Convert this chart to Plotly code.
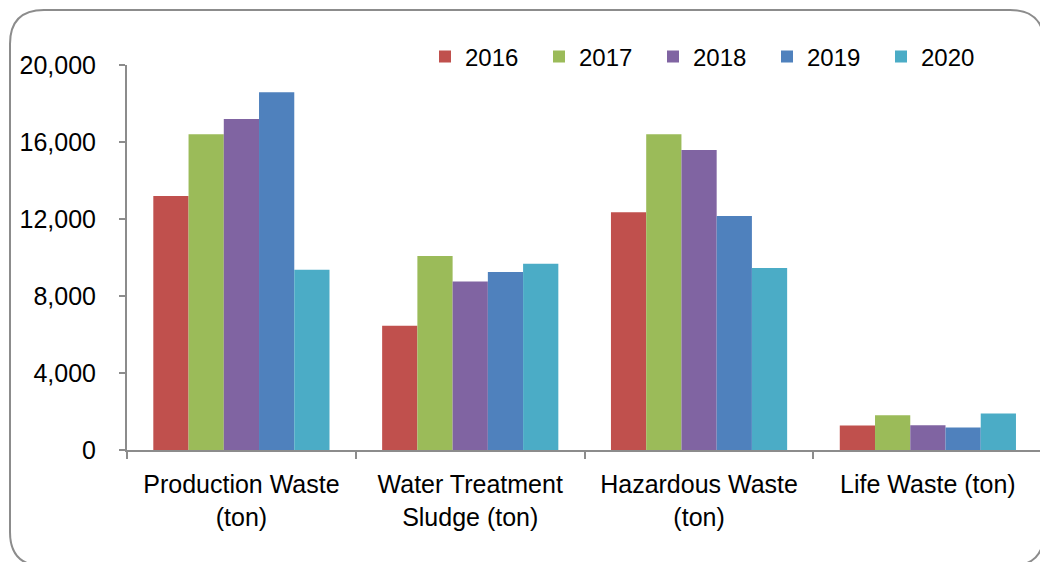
import plotly.graph_objects as go

categories = ["Production Waste<br>(ton)", "Water Treatment<br>Sludge (ton)", "Hazardous Waste<br>(ton)", "Life Waste (ton)"]
years = ["2016", "2017", "2018", "2019", "2020"]
values = {
    "2016": [13200, 6450, 12350, 1270],
    "2017": [16400, 10080, 16400, 1800],
    "2018": [17200, 8750, 15580, 1280],
    "2019": [18580, 9250, 12150, 1170],
    "2020": [9360, 9680, 9450, 1900],
}
colors = ["#C0504D", "#9BBB59", "#8064A2", "#4F81BD", "#4BACC6"]
y_ticks = [0, 4000, 8000, 12000, 16000, 20000]
y_tick_text = ["0", "4,000", "8,000", "12,000", "16,000", "20,000"]

W, H = 1040, 562
L, R, T, B = 127, 0, 65, 112

fig = go.Figure()
for y, c in zip(years, colors):
    fig.add_trace(go.Bar(name=y, x=categories, y=values[y], marker=dict(color=c, line=dict(width=0))))

fam = "Liberation Sans, Arial, sans-serif"
font = dict(family=fam, size=25, color="#000")
lfont = dict(family=fam, size=24, color="#000")
axcol = "#8c8c8c"

pw, ph = W - L - R, H - T - B
def px(x): return (x - L) / pw
def py(y): return (H - B - y) / ph

fig.update_layout(
    width=W, height=H,
    margin=dict(l=L, r=R, t=T, b=B, pad=0),
    paper_bgcolor="white", plot_bgcolor="white",
    barmode="group", bargap=0.23, bargroupgap=0,
    font=font,
    showlegend=True,
    legend=dict(orientation="h", x=px(425), y=py(57), xanchor="left", yanchor="middle",
                font=lfont, bgcolor="rgba(0,0,0,0)", itemwidth=30, traceorder="normal",
                entrywidth=69, entrywidthmode="pixels"),
    xaxis=dict(range=[-0.5, 3.49], showline=True, linecolor=axcol, linewidth=2,
               ticks="outside", tickson="boundaries", ticklen=7, tickcolor=axcol, tickwidth=2,
               showgrid=False, zeroline=False, tickfont=font, ticklabelstandoff=11),
    yaxis=dict(range=[0, 20000], tickvals=y_ticks, ticktext=y_tick_text,
               showline=True, linecolor=axcol, linewidth=2, ticks="outside", ticklen=6,
               tickcolor=axcol, tickwidth=2, showgrid=False, zeroline=False, tickfont=font,
               ticklabelstandoff=18),
)

# rounded chart border, pixel -> paper
l, t, r, b, rad = 10, 10, 1044, 566, 34
path = (f"M {px(l)},{py(t+rad)} Q {px(l)},{py(t)} {px(l+rad)},{py(t)} "
        f"L {px(r-rad)},{py(t)} Q {px(r)},{py(t)} {px(r)},{py(t+rad)} "
        f"L {px(r)},{py(b-rad)} Q {px(r)},{py(b)} {px(r-rad)},{py(b)} "
        f"L {px(l+rad)},{py(b)} Q {px(l)},{py(b)} {px(l)},{py(b-rad)} Z")
fig.add_shape(type="path", path=path, xref="paper", yref="paper",
              line=dict(color="#8c8c8c", width=2), layer="below")

fig.write_html("out.html", config={"displayModeBar": False},
               post_script="document.body.style.margin='0';document.body.style.overflow='hidden';")
